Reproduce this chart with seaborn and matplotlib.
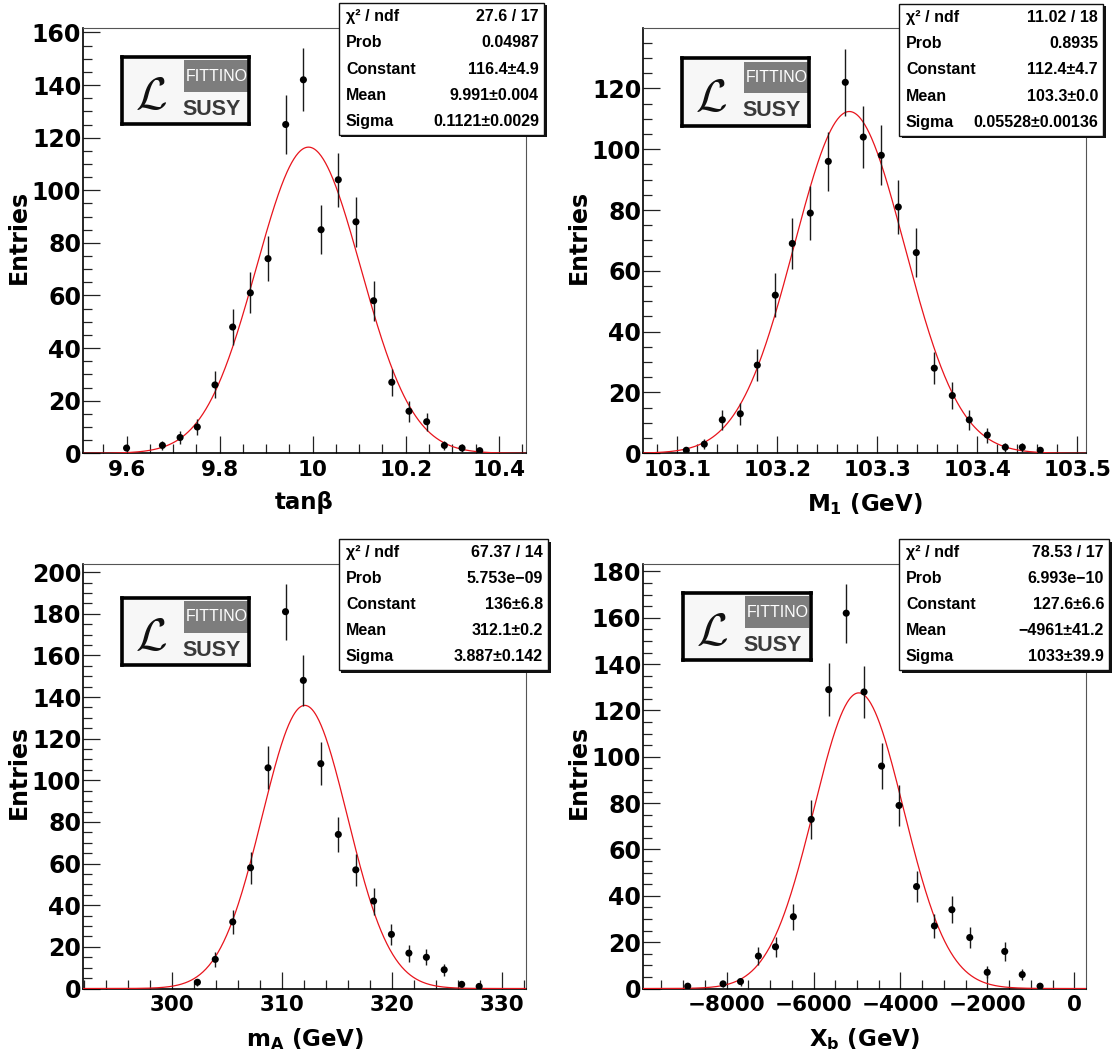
import numpy as np
import seaborn as sns
import matplotlib.pyplot as plt
from matplotlib.patches import Rectangle
from matplotlib.ticker import MultipleLocator, FuncFormatter

W, H = 1120, 1056

# ---- data (bin centres, entries) ----
tanb_x = [9.600, 9.677, 9.715, 9.752, 9.790, 9.828, 9.866, 9.904, 9.942, 9.980,
          10.018, 10.055, 10.093, 10.131, 10.170, 10.207, 10.245, 10.283, 10.321, 10.359]
tanb_n = [2, 3, 6, 10, 26, 48, 61, 74, 125, 142, 85, 104, 88, 58, 27, 16, 12, 3, 2, 1]
tanb_fit = [116.4, 9.991, 0.1121]

m1_x = [103.109, 103.127, 103.145, 103.163, 103.180, 103.198, 103.215, 103.233, 103.251,
        103.268, 103.286, 103.304, 103.321, 103.339, 103.357, 103.375, 103.392, 103.410,
        103.428, 103.445, 103.463]
m1_n = [1, 3, 11, 13, 29, 52, 69, 79, 96, 122, 104, 98, 81, 66, 28, 19, 11, 6, 2, 2, 1]
m1_fit = [112.4, 103.272, 0.05528]

ma_x = [302.34, 303.96, 305.55, 307.17, 308.76, 310.35, 311.97, 313.56, 315.15,
        316.74, 318.36, 319.98, 321.57, 323.16, 324.78, 326.37, 327.96]
ma_n = [3, 14, 32, 58, 106, 181, 148, 108, 74, 57, 42, 26, 17, 15, 9, 2, 1]
ma_fit = [136.0, 312.1, 3.887]

xb_x = [-8895, -8082, -7680, -7269, -6875, -6464, -6053, -5651, -5248, -4838,
        -4435, -4033, -3630, -3219, -2817, -2406, -2004, -1601, -1199, -788]
xb_n = [1, 2, 3, 14, 18, 31, 73, 129, 162, 128, 96, 79, 44, 27, 34, 22, 7, 16, 6, 1]
xb_fit = [127.6, -4961, 1033]

# ---- stats box texts ----
stat_names = ['χ² / ndf', 'Prob', 'Constant', 'Mean', 'Sigma']
tanb_stats = ['27.6 / 17', '0.04987', '116.4±4.9', '9.991±0.004', '0.1121±0.0029']
m1_stats = ['11.02 / 18', '0.8935', '112.4±4.7', '103.3±0.0', '0.05528±0.00136']
ma_stats = ['67.37 / 14', '5.753e−09', '136±6.8', '312.1±0.2', '3.887±0.142']
xb_stats = ['78.53 / 17', '6.993e−10', '127.6±6.6', '−4961±41.2', '1033±39.9']

sns.set_theme(style='ticks')
plt.rcParams['font.family'] = ['DejaVu Sans']
plt.rcParams['font.weight'] = 'bold'
plt.rcParams['mathtext.default'] = 'bf'
for key in ['text.color', 'axes.labelcolor', 'xtick.color', 'ytick.color']:
    plt.rcParams[key] = 'black'

fig = plt.figure(figsize=(W / 100, H / 100), dpi=100)
fig.patch.set_facecolor('white')


def px_rect(x0, x1, y0, y1):
    # pixel box (top origin) -> figure fraction [left, bottom, width, height]
    return [x0 / W, 1 - y1 / H, (x1 - x0) / W, (y1 - y0) / H]


def fmt(v, pos):
    return ('%g' % round(v, 6)).replace('-', '\u2212')


panels = [
    dict(x=tanb_x, n=tanb_n, fit=tanb_fit, stats=tanb_stats, xlabel='tanβ',
         xlim=(9.507, 10.458), ymax=161.5, xmaj=0.2, xmin=0.05,
         ax=(83.3, 525.8, 28.5, 453.3), box=(339, 544, 3, 135), logo=(122, 249.5, 57, 124.3)),
    dict(x=m1_x, n=m1_n, fit=m1_fit, stats=m1_stats, xlabel=r'M$_1$ (GeV)',
         xlim=(103.066, 103.5085), ymax=139.7, xmaj=0.1, xmin=0.02,
         ax=(643.3, 1085.8, 28.5, 453.3), box=(899, 1103, 4, 135.7), logo=(682, 809.5, 58.3, 125.7)),
    dict(x=ma_x, n=ma_n, fit=ma_fit, stats=ma_stats, xlabel=r'm$_A$ (GeV)',
         xlim=(291.96, 332.2), ymax=204.1, xmaj=10, xmin=2,
         ax=(83.3, 525.8, 563.6, 988.5), box=(339, 548, 539, 670), logo=(122, 249.5, 597.7, 665)),
    dict(x=xb_x, n=xb_n, fit=xb_fit, stats=xb_stats, xlabel=r'X$_b$ (GeV)',
         xlim=(-9917, 264), ymax=183.4, xmaj=2000, xmin=500,
         ax=(643.3, 1085.8, 563.6, 988.5), box=(899, 1109, 539, 670), logo=(683, 810.5, 593, 660)),
]

for p in panels:
    ax = fig.add_axes(px_rect(*p['ax']))
    x = np.array(p['x'], dtype=float)
    n = np.array(p['n'], dtype=float)
    err = np.sqrt(n)

    # gaussian fit curve
    c, mu, sg = p['fit']
    xs = np.linspace(p['xlim'][0], p['xlim'][1], 600)
    ys = c * np.exp(-0.5 * ((xs - mu) / sg) ** 2)
    sns.lineplot(x=xs, y=ys, ax=ax, color='#e8141c', lw=0.9, zorder=3)

    # data points with poisson errors
    ax.vlines(x, n - err, n + err, colors='#1a1a1a', lw=1.0, zorder=4)
    sns.scatterplot(x=x, y=n, ax=ax, color='black', s=26, edgecolor='none', zorder=5)

    ax.set_xlim(*p['xlim'])
    ax.set_ylim(0, p['ymax'])
    ax.xaxis.set_major_locator(MultipleLocator(p['xmaj']))
    ax.xaxis.set_minor_locator(MultipleLocator(p['xmin']))
    ax.yaxis.set_major_locator(MultipleLocator(20))
    ax.yaxis.set_minor_locator(MultipleLocator(5))
    ax.xaxis.set_major_formatter(FuncFormatter(fmt))
    ax.yaxis.set_major_formatter(FuncFormatter(fmt))

    ax.tick_params(which='both', direction='in', top=False, right=False, color='#222222', width=0.9)
    ax.tick_params(which='major', length=12.5)
    ax.tick_params(which='minor', length=6.2)
    ax.tick_params(axis='x', which='major', labelsize=15.5, pad=5, labelcolor='black')
    ax.tick_params(axis='y', which='major', labelsize=17, pad=1.5, labelcolor='black')

    for side in ['left', 'bottom']:
        ax.spines[side].set_color('black')
        ax.spines[side].set_linewidth(1.2)
    for side in ['top', 'right']:
        ax.spines[side].set_color('#555555')
        ax.spines[side].set_linewidth(0.8)

    ax.set_xlabel(p['xlabel'], fontsize=16.5, fontweight='bold', color='black')
    ax.set_ylabel('Entries', fontsize=17, fontweight='bold', color='black')
    ax.xaxis.set_label_coords(0.5, -0.088)
    ax.yaxis.set_label_coords(-0.118, 0.51)

    # stats box with shadow
    bx0, bx1, by0, by1 = p['box']
    l, b, w, h = px_rect(bx0, bx1, by0, by1)
    fig.add_artist(Rectangle((l + 2.5 / W, b - 2.5 / H), w, h, transform=fig.transFigure,
                             facecolor='#111111', edgecolor='none', zorder=10))
    fig.add_artist(Rectangle((l, b), w, h, transform=fig.transFigure,
                             facecolor='white', edgecolor='#111111', lw=1.0, zorder=11))
    for i, (name, val) in enumerate(zip(stat_names, p['stats'])):
        yy = b + h * (1 - (i + 0.5) / 5)
        fig.text(l + 7 / W, yy, name, ha='left', va='center', fontsize=11.5,
                 fontweight='bold', family=['Liberation Sans', 'DejaVu Sans'], zorder=12)
        fig.text(l + w - 5 / W, yy, val, ha='right', va='center', fontsize=11.5,
                 fontweight='bold', family=['Liberation Sans', 'DejaVu Sans'], zorder=12)

    # FITTINO / SUSY logo
    lax = fig.add_axes(px_rect(*p['logo']), zorder=20)
    lax.set_xlim(0, 1)
    lax.set_ylim(0, 1)
    lax.set_xticks([])
    lax.set_yticks([])
    lax.set_facecolor('#f7f7f7')
    for s in lax.spines.values():
        s.set_color('black')
        s.set_linewidth(2.6)
    lax.add_patch(Rectangle((0.49, 0.48), 0.5, 0.47, facecolor='#7d7d7d', edgecolor='none'))
    lax.text(0.74, 0.715, 'FITTINO', ha='center', va='center', color='white',
             fontsize=11.5, fontweight='normal', family=['Liberation Sans'])
    lax.text(0.70, 0.22, 'SUSY', ha='center', va='center', color='#3a3a3a',
             fontsize=15.5, fontweight='bold', family=['Liberation Sans'])
    lax.text(0.23, 0.41, r'$\mathcal{L}$', ha='center', va='center', color='#111111',
             fontsize=33, math_fontfamily='cm')

fig.savefig('out.png', dpi=100, facecolor='white')
